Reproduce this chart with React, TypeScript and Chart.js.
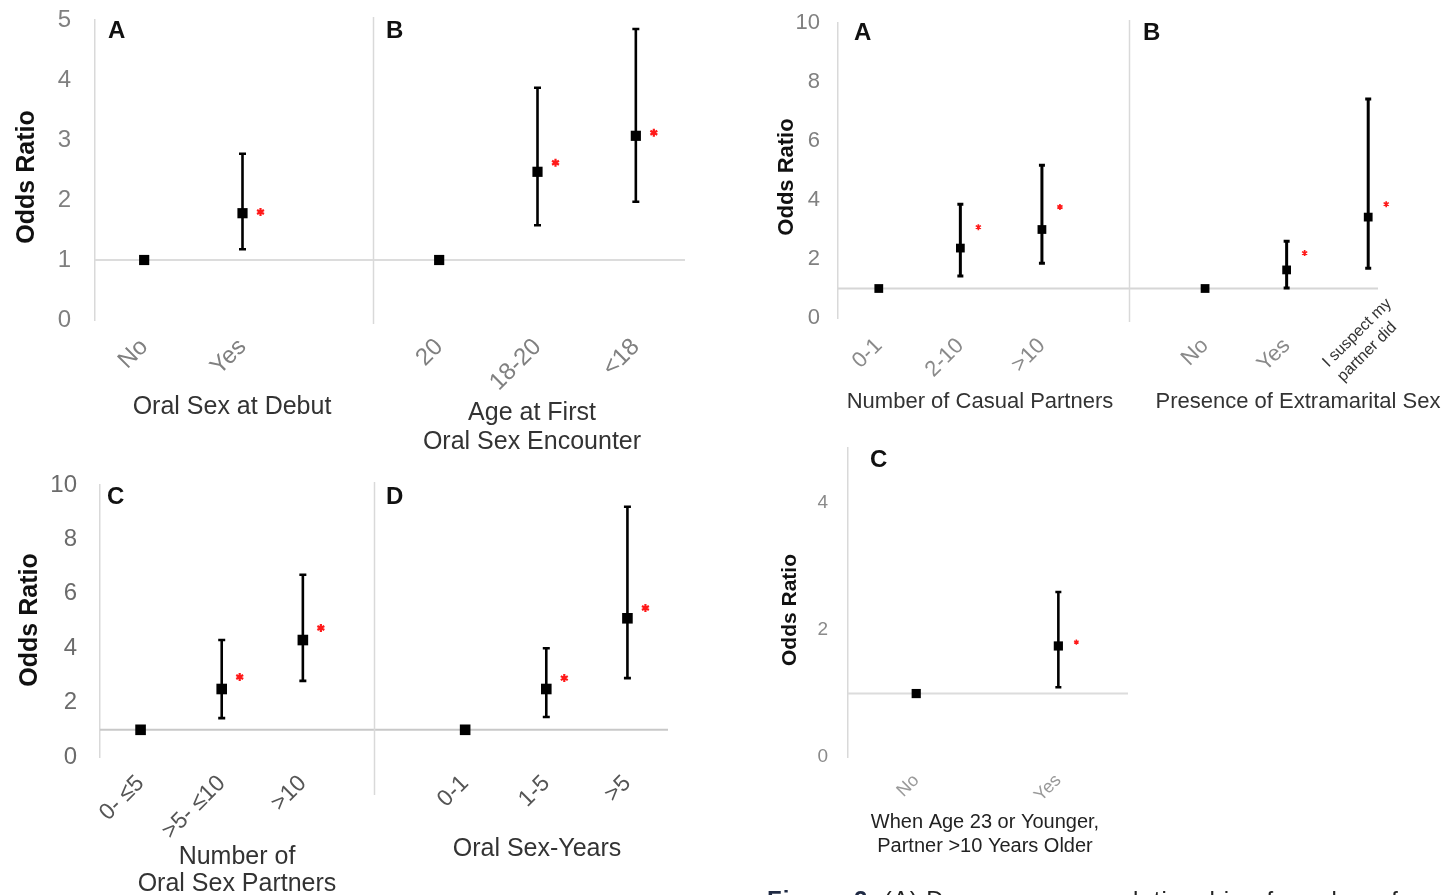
import React, { useEffect, useRef } from "react";
import { Chart, registerables } from "chart.js";

Chart.register(...registerables);

const FONT = "'Liberation Sans', Arial, Helvetica, sans-serif";
const NARROW = "'Liberation Sans Narrow', 'Arial Narrow', 'Liberation Sans', Arial, sans-serif";

// ---------- Figure 1, panels A & B (odds ratio, 0-5) ----------
const f1abLabels: (string | string[])[] = ["No", "Yes", "", "20", "18-20", "<18"];
const f1abOR: (number | null)[] = [1, 1.78, null, 1, 2.47, 3.07];
const f1abLow: (number | null)[] = [null, 1.18, null, null, 1.58, 1.97];
const f1abHigh: (number | null)[] = [null, 2.77, null, null, 3.87, 4.85];
const f1abStar: (number | null)[] = [null, 1.8, null, null, 2.62, 3.12];
const f1abYTicks = [0, 1, 2, 3, 4, 5];

// ---------- Figure 1, panels C & D (odds ratio, 0-10) ----------
const f1cdLabels: (string | string[])[] = ["0- \u22645", ">5- \u226410", ">10", "", "0-1", "1-5", ">5"];
const f1cdOR: (number | null)[] = [1, 2.5, 4.3, null, 1, 2.5, 5.1];
const f1cdLow: (number | null)[] = [null, 1.43, 2.8, null, null, 1.47, 2.9];
const f1cdHigh: (number | null)[] = [null, 4.3, 6.7, null, null, 4.0, 9.2];
const f1cdStar: (number | null)[] = [null, 2.94, 4.74, null, null, 2.9, 5.48];
const f1cdYTicks = [0, 2, 4, 6, 8, 10];

// ---------- Figure 2, panels A & B ----------
const f2abLabels: (string | string[])[] = ["0-1", "2-10", ">10", "", "No", "Yes", ["I suspect my", "partner did"]];
const f2abOR: (number | null)[] = [1, 2.37, 3.0, null, 1, 1.63, 3.42];
const f2abLow: (number | null)[] = [null, 1.42, 1.86, null, null, 1.02, 1.69];
const f2abHigh: (number | null)[] = [null, 3.86, 5.18, null, null, 2.6, 7.42];
const f2abStar: (number | null)[] = [null, 3.08, 3.76, null, null, 2.2, 3.86];
const f2abYTicks = [0, 2, 4, 6, 8, 10];

// ---------- Figure 2, panel C ----------
const f2cLabels: (string | string[])[] = ["No", "Yes"];
const f2cOR: (number | null)[] = [1.0, 1.75];
const f2cLow: (number | null)[] = [null, 1.1];
const f2cHigh: (number | null)[] = [null, 2.6];
const f2cStar: (number | null)[] = [null, 1.81];
const f2cYTicks = [0, 2, 4];

type TextItem = { text: string; x: number; y: number; font: string; color: string; align?: CanvasTextAlign; rotate?: boolean };

type Cfg = {
  left: number; top: number; width: number; height: number;
  labels: (string | string[])[]; or: (number | null)[]; low: (number | null)[]; high: (number | null)[]; star: (number | null)[];
  yTicks: number[]; yMin: number; yMax: number; xMin: number; xMax: number;
  yAxisW: number; padTop: number; padRight: number; xAxisH: number;
  yTickFont: { family: string; size: number }; yTickColor: string; yTickPad: number;
  xTickSize: number; xTickSmall: number; xTickFamily: string; xTickColor: string; xTickPad: number;
  pointR: number; barW: number; cap: number; starR: number;
  refColor: string; sepX: number | null; sepUp: number; sepDown: number;
  texts: TextItem[];
};

function drawStar(ctx: CanvasRenderingContext2D, x: number, y: number, r: number) {
  ctx.save();
  ctx.strokeStyle = "#ff1a1a";
  ctx.fillStyle = "#ff1a1a";
  ctx.lineWidth = Math.max(1.4, r * 0.55);
  ctx.beginPath();
  for (let k = 0; k < 3; k++) {
    const a = (Math.PI / 3) * k + Math.PI / 2;
    ctx.moveTo(x + Math.cos(a) * r, y + Math.sin(a) * r);
    ctx.lineTo(x - Math.cos(a) * r, y - Math.sin(a) * r);
  }
  ctx.stroke();
  ctx.beginPath();
  ctx.arc(x, y, r * 0.45, 0, Math.PI * 2);
  ctx.fill();
  ctx.restore();
}

function makeDecor(cfg: Cfg) {
  return {
    id: "oddsDecor",
    beforeDatasetsDraw(chart: any) {
      const { ctx, chartArea } = chart;
      const xs = chart.scales.x;
      const ys = chart.scales.y;
      ctx.save();
      // reference line at OR = 1
      const yRef = ys.getPixelForValue(1);
      ctx.strokeStyle = cfg.refColor;
      ctx.lineWidth = 2;
      ctx.beginPath();
      ctx.moveTo(chartArea.left, yRef);
      ctx.lineTo(chartArea.right, yRef);
      ctx.stroke();
      // panel separator
      if (cfg.sepX !== null) {
        const sx = Math.round(xs.getPixelForValue(cfg.sepX)) + 0.5;
        ctx.strokeStyle = "#d9d9d9";
        ctx.lineWidth = 1.5;
        ctx.beginPath();
        ctx.moveTo(sx, chartArea.top - cfg.sepUp);
        ctx.lineTo(sx, chartArea.bottom + cfg.sepDown);
        ctx.stroke();
      }
      // confidence intervals
      ctx.strokeStyle = "#000";
      ctx.lineWidth = cfg.barW;
      cfg.low.forEach((lo, i) => {
        const hi = cfg.high[i];
        if (lo === null || hi === null) return;
        const x = xs.getPixelForValue(i);
        const yl = ys.getPixelForValue(lo);
        const yh = ys.getPixelForValue(hi);
        ctx.beginPath();
        ctx.moveTo(x, yl);
        ctx.lineTo(x, yh);
        ctx.moveTo(x - cfg.cap, yl);
        ctx.lineTo(x + cfg.cap, yl);
        ctx.moveTo(x - cfg.cap, yh);
        ctx.lineTo(x + cfg.cap, yh);
        ctx.stroke();
      });
      ctx.restore();
    },
    afterDatasetsDraw(chart: any) {
      const { ctx, chartArea } = chart;
      const xs = chart.scales.x;
      const ys = chart.scales.y;
      // significance stars
      cfg.star.forEach((s, i) => {
        if (s === null) return;
        drawStar(ctx, xs.getPixelForValue(i) + 18, ys.getPixelForValue(s), cfg.starR);
      });
      // two-line category labels (drawn as a centred rotated block)
      cfg.labels.forEach((l, i) => {
        if (!Array.isArray(l)) return;
        const tx = xs.getPixelForValue(i);
        const by = chartArea.bottom;
        ctx.save();
        ctx.font = `${cfg.xTickSmall}px ${FONT}`;
        ctx.fillStyle = "#333";
        ctx.textAlign = "center";
        ctx.textBaseline = "middle";
        l.forEach((line, k) => {
          ctx.save();
          ctx.translate(tx - 11 + k * 10, by + 15 + k * 19);
          ctx.rotate(-Math.PI / 4);
          ctx.fillText(line, 0, 0);
          ctx.restore();
        });
        ctx.restore();
      });
      // panel letters, axis titles
      cfg.texts.forEach((t) => {
        ctx.save();
        ctx.font = t.font;
        ctx.fillStyle = t.color;
        ctx.textAlign = t.align || "center";
        ctx.textBaseline = "middle";
        ctx.translate(t.x, t.y);
        if (t.rotate) ctx.rotate(-Math.PI / 2);
        ctx.fillText(t.text, 0, 0);
        ctx.restore();
      });
    },
  };
}

function ErrorChart({ cfg }: { cfg: Cfg }) {
  const ref = useRef<HTMLCanvasElement | null>(null);
  useEffect(() => {
    if (!ref.current) return;
    const tickIdx = cfg.labels
      .map((_, i) => i)
      .filter((i) => {
        const l = cfg.labels[i];
        return Array.isArray(l) || l !== "";
      });
    const points = cfg.or
      .map((v, i) => (v === null ? null : { x: i, y: v }))
      .filter((p) => p !== null) as { x: number; y: number }[];
    const chart = new Chart(ref.current, {
      type: "scatter",
      data: {
        datasets: [
          {
            data: points,
            pointStyle: "rect",
            pointRadius: cfg.pointR,
            pointBackgroundColor: "#000",
            pointBorderColor: "#000",
            pointBorderWidth: 0,
            showLine: false,
          } as any,
        ],
      },
      options: {
        responsive: false,
        animation: false,
        events: [],
        layout: { padding: { top: cfg.padTop, right: cfg.padRight, left: 0, bottom: 0 } },
        plugins: { legend: { display: false }, tooltip: { enabled: false } },
        scales: {
          x: {
            type: "linear",
            min: cfg.xMin,
            max: cfg.xMax,
            grid: { display: false, drawTicks: false },
            border: { display: false },
            afterBuildTicks: (s: any) => {
              s.ticks = tickIdx.map((i) => ({ value: i }));
            },
            afterFit: (s: any) => {
              s.height = cfg.xAxisH;
              s.paddingLeft = 0;
              s.paddingRight = 0;
            },
            ticks: {
              autoSkip: false,
              minRotation: 45,
              maxRotation: 45,
              padding: cfg.xTickPad,
              color: cfg.xTickColor,
              font: { family: cfg.xTickFamily, size: cfg.xTickSize },
              callback: (v: any) => {
                const l = cfg.labels[v as number];
                return Array.isArray(l) ? "" : l;
              },
            },
          },
          y: {
            type: "linear",
            min: cfg.yMin,
            max: cfg.yMax,
            grid: { display: false, drawTicks: false },
            border: { display: true, color: "#d9d9d9", width: 1.5 },
            afterBuildTicks: (s: any) => {
              s.ticks = cfg.yTicks.map((v) => ({ value: v }));
            },
            afterFit: (s: any) => {
              s.width = cfg.yAxisW;
              s.paddingTop = 0;
              s.paddingBottom = 0;
            },
            ticks: {
              padding: cfg.yTickPad,
              color: cfg.yTickColor,
              font: cfg.yTickFont,
            },
          },
        },
      } as any,
      plugins: [makeDecor(cfg) as any],
    });
    return () => chart.destroy();
  }, [cfg]);
  return (
    <canvas
      ref={ref}
      width={cfg.width}
      height={cfg.height}
      style={{ position: "absolute", left: cfg.left, top: cfg.top, width: cfg.width, height: cfg.height }}
    />
  );
}

const bold = (s: number) => `bold ${s}px ${FONT}`;
const reg = (s: number, fam = FONT) => `${s}px ${fam}`;

const cfgF1AB: Cfg = {
  left: 0, top: 0, width: 700, height: 460,
  labels: f1abLabels, or: f1abOR, low: f1abLow, high: f1abHigh, star: f1abStar,
  yTicks: f1abYTicks, yMin: 0, yMax: 5, xMin: -0.5, xMax: 5.5,
  yAxisW: 95, padTop: 20, padRight: 15, xAxisH: 140,
  yTickFont: { family: FONT, size: 24 }, yTickColor: "#7f7f7f", yTickPad: 24,
  xTickSize: 24, xTickSmall: 15, xTickFamily: FONT, xTickColor: "#808080", xTickPad: 13,
  pointR: 7.2, barW: 2.6, cap: 3.5, starR: 4,
  refColor: "#dcdcdc", sepX: 2.33, sepUp: 3, sepDown: 4,
  texts: [
    { text: "Odds Ratio", x: 27, y: 177, font: bold(25), color: "#111", rotate: true },
    { text: "A", x: 108, y: 31, font: bold(24), color: "#111", align: "left" },
    { text: "B", x: 386, y: 31, font: bold(24), color: "#111", align: "left" },
    { text: "Oral Sex at Debut", x: 232, y: 407, font: reg(25), color: "#333" },
    { text: "Age at First", x: 532, y: 413, font: reg(25), color: "#333" },
    { text: "Oral Sex Encounter", x: 532, y: 442, font: reg(25), color: "#333" },
  ],
};

const cfgF1CD: Cfg = {
  left: 0, top: 460, width: 700, height: 435,
  labels: f1cdLabels, or: f1cdOR, low: f1cdLow, high: f1cdHigh, star: f1cdStar,
  yTicks: f1cdYTicks, yMin: 0, yMax: 10, xMin: -0.5, xMax: 6.5,
  yAxisW: 100, padTop: 25, padRight: 32, xAxisH: 138,
  yTickFont: { family: FONT, size: 24 }, yTickColor: "#6b6b6b", yTickPad: 23,
  xTickSize: 23, xTickSmall: 15, xTickFamily: FONT, xTickColor: "#555", xTickPad: 13,
  pointR: 7.5, barW: 2.6, cap: 3.5, starR: 4,
  refColor: "#c8c8c8", sepX: 2.88, sepUp: 3, sepDown: 38,
  texts: [
    { text: "Odds Ratio", x: 30, y: 160, font: bold(25), color: "#111", rotate: true },
    { text: "C", x: 107, y: 37, font: bold(24), color: "#111", align: "left" },
    { text: "D", x: 386, y: 37, font: bold(24), color: "#111", align: "left" },
    { text: "Number of", x: 237, y: 397, font: reg(25), color: "#333" },
    { text: "Oral Sex Partners", x: 237, y: 424, font: reg(25), color: "#333" },
    { text: "Oral Sex-Years", x: 537, y: 389, font: reg(25), color: "#333" },
  ],
};

const cfgF2AB: Cfg = {
  left: 740, top: 0, width: 714, height: 440,
  labels: f2abLabels, or: f2abOR, low: f2abLow, high: f2abHigh, star: f2abStar,
  yTicks: f2abYTicks, yMin: 0, yMax: 10, xMin: -0.5, xMax: 6.12,
  yAxisW: 98, padTop: 23, padRight: 76, xAxisH: 122,
  yTickFont: { family: NARROW, size: 22 }, yTickColor: "#808080", yTickPad: 18,
  xTickSize: 22, xTickSmall: 16, xTickFamily: NARROW, xTickColor: "#8a8a8a", xTickPad: 15,
  pointR: 6.2, barW: 3, cap: 3, starR: 3,
  refColor: "#d6d6d6", sepX: 3.07, sepUp: 3, sepDown: 4,
  texts: [
    { text: "Odds Ratio", x: 47, y: 177, font: bold(22), color: "#111", rotate: true },
    { text: "A", x: 114, y: 33, font: bold(24), color: "#111", align: "left" },
    { text: "B", x: 403, y: 33, font: bold(24), color: "#111", align: "left" },
    { text: "Number of Casual Partners", x: 240, y: 402, font: reg(22), color: "#333" },
    { text: "Presence of Extramarital Sex", x: 558, y: 402, font: reg(22), color: "#333" },
  ],
};

const cfgF2C: Cfg = {
  left: 740, top: 440, width: 500, height: 455,
  labels: f2cLabels, or: f2cOR, low: f2cLow, high: f2cHigh, star: f2cStar,
  yTicks: f2cYTicks, yMin: 0, yMax: 4.87, xMin: -0.48, xMax: 1.49,
  yAxisW: 108, padTop: 8, padRight: 112, xAxisH: 138,
  yTickFont: { family: NARROW, size: 19 }, yTickColor: "#8a8a8a", yTickPad: 20,
  xTickSize: 18, xTickSmall: 14, xTickFamily: NARROW, xTickColor: "#999", xTickPad: 13,
  pointR: 6.5, barW: 2.6, cap: 3, starR: 2.6,
  refColor: "#dcdcdc", sepX: null, sepUp: 0, sepDown: 0,
  texts: [
    { text: "Odds Ratio", x: 50, y: 170, font: bold(21), color: "#111", rotate: true },
    { text: "C", x: 130, y: 20, font: bold(24), color: "#111", align: "left" },
    { text: "When Age 23 or Younger,", x: 245, y: 382, font: reg(20, NARROW), color: "#222" },
    { text: "Partner >10 Years Older", x: 245, y: 406, font: reg(20, NARROW), color: "#222" },
  ],
};

export default function App() {
  return (
    <div
      style={{
        position: "absolute",
        left: 0,
        top: 0,
        width: 1454,
        height: 895,
        overflow: "hidden",
        background: "#fff",
      }}
    >
      <ErrorChart cfg={cfgF1AB} />
      <ErrorChart cfg={cfgF1CD} />
      <ErrorChart cfg={cfgF2AB} />
      <ErrorChart cfg={cfgF2C} />
      <div
        style={{
          position: "absolute",
          left: 767,
          top: 888,
          whiteSpace: "nowrap",
          fontFamily: FONT,
          fontSize: 24,
          lineHeight: "24px",
          letterSpacing: "1px",
          color: "#222",
        }}
      >
        <b style={{ color: "#1f2a44" }}>Figure 2.</b> (A) Dose-response relationship of number of casual partners and
        presence of extramarital sex
      </div>
    </div>
  );
}
